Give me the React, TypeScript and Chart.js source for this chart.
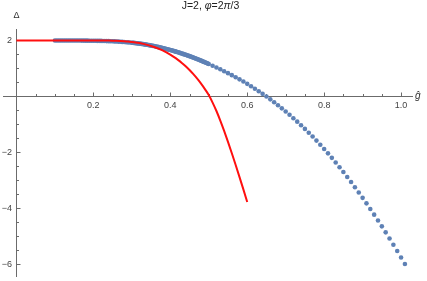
import React, { useEffect, useRef } from 'react';
import { Chart, registerables } from 'chart.js';
Chart.register(...registerables);

// Red curve (solid line)
const redX = [
  0.00, 0.01, 0.02, 0.03, 0.04, 0.05, 0.06, 0.07, 0.08, 0.09,
  0.10, 0.11, 0.12, 0.13, 0.14, 0.15, 0.16, 0.17, 0.18, 0.19,
  0.20, 0.21, 0.22, 0.23, 0.24, 0.25, 0.26, 0.27, 0.28, 0.29,
  0.30, 0.31, 0.32, 0.33, 0.34, 0.35, 0.36, 0.37, 0.38, 0.39,
  0.40, 0.41, 0.42, 0.43, 0.44, 0.45, 0.46, 0.47, 0.48, 0.49,
  0.50, 0.51, 0.52, 0.53, 0.54, 0.55, 0.56, 0.57, 0.58, 0.59,
  0.60,
];
const redY = [
  2.000, 2.000, 2.000, 2.000, 2.000, 2.000, 2.000, 2.000, 2.000, 2.000,
  2.000, 2.000, 2.000, 2.000, 2.000, 2.000, 2.000, 2.000, 2.000, 2.000,
  2.000, 1.999, 1.998, 1.997, 1.995, 1.992, 1.988, 1.982, 1.974, 1.963,
  1.948, 1.930, 1.906, 1.878, 1.844, 1.804, 1.758, 1.704, 1.643, 1.573,
  1.495, 1.406, 1.307, 1.198, 1.076, 0.943, 0.795, 0.633, 0.456, 0.262,
  0.050, -0.220, -0.520, -0.860, -1.230, -1.620, -2.030, -2.450, -2.880, -3.320,
  -3.770,
];

// Blue points (dense sampling up to 0.5, then coarser)
const blueX = [
  0.100, 0.105, 0.110, 0.115, 0.120, 0.125, 0.130, 0.135, 0.140, 0.145,
  0.150, 0.155, 0.160, 0.165, 0.170, 0.175, 0.180, 0.185, 0.190, 0.195,
  0.200, 0.205, 0.210, 0.215, 0.220, 0.225, 0.230, 0.235, 0.240, 0.245,
  0.250, 0.255, 0.260, 0.265, 0.270, 0.275, 0.280, 0.285, 0.290, 0.295,
  0.300, 0.305, 0.310, 0.315, 0.320, 0.325, 0.330, 0.335, 0.340, 0.345,
  0.350, 0.355, 0.360, 0.365, 0.370, 0.375, 0.380, 0.385, 0.390, 0.395,
  0.400, 0.405, 0.410, 0.415, 0.420, 0.425, 0.430, 0.435, 0.440, 0.445,
  0.450, 0.455, 0.460, 0.465, 0.470, 0.475, 0.480, 0.485, 0.490, 0.495,
  0.500,
  0.51, 0.52, 0.53, 0.54, 0.55, 0.56, 0.57, 0.58, 0.59, 0.60,
  0.61, 0.62, 0.63, 0.64, 0.65, 0.66, 0.67, 0.68, 0.69, 0.70,
  0.71, 0.72, 0.73, 0.74, 0.75, 0.76, 0.77, 0.78, 0.79, 0.80,
  0.81, 0.82, 0.83, 0.84, 0.85, 0.86, 0.87, 0.88, 0.89, 0.90,
  0.91, 0.92, 0.93, 0.94, 0.95, 0.96, 0.97, 0.98, 0.99, 1.00,
  1.01,
];
const blueY = [
  2.000, 2.000, 2.000, 2.000, 2.000, 2.000, 1.999, 1.999, 1.999, 1.999,
  1.998, 1.998, 1.997, 1.997, 1.996, 1.995, 1.994, 1.993, 1.992, 1.991,
  1.990, 1.989, 1.987, 1.986, 1.984, 1.982, 1.980, 1.978, 1.976, 1.973,
  1.970, 1.967, 1.963, 1.959, 1.955, 1.950, 1.945, 1.939, 1.933, 1.927,
  1.920, 1.913, 1.905, 1.897, 1.888, 1.878, 1.868, 1.857, 1.845, 1.833,
  1.820, 1.807, 1.793, 1.778, 1.763, 1.747, 1.731, 1.714, 1.697, 1.679,
  1.660, 1.641, 1.621, 1.600, 1.579, 1.557, 1.535, 1.512, 1.489, 1.465,
  1.440, 1.415, 1.389, 1.362, 1.335, 1.307, 1.279, 1.250, 1.221, 1.191,
  1.160,
  1.098, 1.035, 0.970, 0.902, 0.832, 0.761, 0.687, 0.611, 0.532, 0.450,
  0.365, 0.277, 0.186, 0.093, -0.004, -0.104, -0.207, -0.314, -0.424, -0.538,
  -0.655, -0.776, -0.900, -1.028, -1.159, -1.294, -1.433, -1.577, -1.725, -1.877,
  -2.033, -2.193, -2.358, -2.527, -2.700, -2.877, -3.058, -3.242, -3.430, -3.622,
  -3.818, -4.018, -4.222, -4.429, -4.640, -4.855, -5.074, -5.296, -5.522, -5.752,
  -5.985,
];
// Extra blue samples in the steeper part of the dense band
const blueFineX = [
  0.3025, 0.3075, 0.3125, 0.3175, 0.3225, 0.3275, 0.3325, 0.3375, 0.3425, 0.3475,
  0.3525, 0.3575, 0.3625, 0.3675, 0.3725, 0.3775, 0.3825, 0.3875, 0.3925, 0.3975,
  0.4025, 0.4075, 0.4125, 0.4175, 0.4225, 0.4275, 0.4325, 0.4375, 0.4425, 0.4475,
  0.4525, 0.4575, 0.4625, 0.4675, 0.4725, 0.4775, 0.4825, 0.4875, 0.4925, 0.4975,
];
const blueFineY = [
  1.917, 1.909, 1.901, 1.892, 1.883, 1.873, 1.862, 1.851, 1.839, 1.826,
  1.813, 1.800, 1.785, 1.770, 1.755, 1.739, 1.722, 1.705, 1.688, 1.669,
  1.650, 1.631, 1.610, 1.589, 1.568, 1.546, 1.523, 1.500, 1.477, 1.452,
  1.427, 1.402, 1.375, 1.348, 1.321, 1.293, 1.264, 1.235, 1.206, 1.175,
];

// Axis ticks and labels
const xMajorTicks = [0.2, 0.4, 0.6, 0.8, 1.0];
const xTickLabels = ['0.2', '0.4', '0.6', '0.8', '1.0'];
const xMinorTicks = [0.05, 0.1, 0.15, 0.25, 0.3, 0.35, 0.45, 0.5, 0.55, 0.65, 0.7, 0.75, 0.85, 0.9, 0.95];
const yMajorTicks = [2, -2, -4, -6];
const yTickLabels = ['2', '\u22122', '\u22124', '\u22126'];
const yMinorTicks = [1.5, 1, 0.5, -0.5, -1, -1.5, -2.5, -3, -3.5, -4.5, -5, -5.5];

const titleParts = [
  { text: 'J=2, ', italic: false },
  { text: '\u03C6', italic: true },
  { text: '=2', italic: false },
  { text: '\u03C0', italic: true },
  { text: '/3', italic: false },
];
const xAxisLabel = '\u011D';
const yAxisLabel = '\u0394';

const FONT = '"Liberation Sans", Arial, sans-serif';
const AXIS_COLOR = '#6b6b6b';
const LABEL_COLOR = '#444444';

const axesPlugin = {
  id: 'mmaAxes',
  beforeDatasetsDraw(chart: any) {
    const ctx = chart.ctx as CanvasRenderingContext2D;
    const xs = chart.scales.x;
    const ys = chart.scales.y;
    const area = chart.chartArea;
    const x0 = Math.round(xs.getPixelForValue(0)) + 0.5;
    const y0 = Math.round(ys.getPixelForValue(0)) + 0.5;
    ctx.save();
    ctx.strokeStyle = AXIS_COLOR;
    ctx.lineWidth = 1;
    ctx.beginPath();
    ctx.moveTo(area.left - 1, y0);
    ctx.lineTo(area.right, y0);
    ctx.moveTo(x0, area.top);
    ctx.lineTo(x0, area.bottom);
    xMajorTicks.forEach((v) => {
      const p = Math.round(xs.getPixelForValue(v)) + 0.5;
      ctx.moveTo(p, y0);
      ctx.lineTo(p, y0 - 4);
    });
    xMinorTicks.forEach((v) => {
      const p = Math.round(xs.getPixelForValue(v)) + 0.5;
      ctx.moveTo(p, y0);
      ctx.lineTo(p, y0 - 2.5);
    });
    yMajorTicks.forEach((v) => {
      const p = Math.round(ys.getPixelForValue(v)) + 0.5;
      ctx.moveTo(x0, p);
      ctx.lineTo(x0 + 4, p);
    });
    yMinorTicks.forEach((v) => {
      const p = Math.round(ys.getPixelForValue(v)) + 0.5;
      ctx.moveTo(x0, p);
      ctx.lineTo(x0 + 2.5, p);
    });
    ctx.stroke();

    ctx.fillStyle = LABEL_COLOR;
    ctx.font = `9px ${FONT}`;
    ctx.textAlign = 'center';
    ctx.textBaseline = 'middle';
    xMajorTicks.forEach((v, i) => {
      ctx.fillText(xTickLabels[i], xs.getPixelForValue(v), y0 + 9);
    });
    ctx.textAlign = 'right';
    yMajorTicks.forEach((v, i) => {
      ctx.fillText(yTickLabels[i], x0 - 4.5, ys.getPixelForValue(v));
    });

    ctx.fillStyle = '#333333';
    ctx.textAlign = 'center';
    ctx.font = `9px ${FONT}`;
    ctx.fillText(yAxisLabel, x0, area.top - 13);
    ctx.font = `italic 10px ${FONT}`;
    ctx.textAlign = 'left';
    ctx.fillText(xAxisLabel, area.right + 2, y0);

    ctx.textBaseline = 'middle';
    let total = 0;
    const widths = titleParts.map((p) => {
      ctx.font = `${p.italic ? 'italic ' : ''}10.5px ${FONT}`;
      const w = ctx.measureText(p.text).width;
      total += w;
      return w;
    });
    let cx = (area.left + area.right) / 2 + 2 - total / 2;
    ctx.fillStyle = '#222222';
    ctx.textAlign = 'left';
    titleParts.forEach((p, i) => {
      ctx.font = `${p.italic ? 'italic ' : ''}10.5px ${FONT}`;
      ctx.fillText(p.text, cx, 6);
      cx += widths[i];
    });
    ctx.restore();
  },
};

export default function App() {
  const ref = useRef<HTMLCanvasElement | null>(null);
  useEffect(() => {
    if (!ref.current) return;
    const redData = redX.map((x, i) => ({ x, y: redY[i] }));
    const blueData = blueX
      .map((x, i) => ({ x, y: blueY[i] }))
      .concat(blueFineX.map((x, i) => ({ x, y: blueFineY[i] })));
    const chart = new Chart(ref.current, {
      type: 'scatter',
      data: {
        datasets: [
          {
            label: 'red',
            data: redData,
            showLine: true,
            borderColor: '#ff0f0f',
            borderWidth: 2,
            pointRadius: 0,
            fill: false,
            cubicInterpolationMode: 'monotone',
            order: 0,
          } as any,
          {
            label: 'blue',
            data: blueData,
            showLine: false,
            backgroundColor: 'rgb(94,129,181)',
            borderWidth: 0,
            pointRadius: 2.3,
            order: 1,
          } as any,
        ],
      },
      options: {
        animation: false,
        responsive: false,
        layout: { padding: { left: 1, top: 29, right: 14, bottom: 1 } },
        scales: {
          x: { type: 'linear', min: -0.0323, max: 1.031, display: false },
          y: { type: 'linear', min: -6.45, max: 2.41, display: false },
        },
        plugins: {
          legend: { display: false },
          tooltip: { enabled: false },
          title: { display: false },
        },
      },
      plugins: [axesPlugin],
    });
    return () => chart.destroy();
  }, []);
  return (
    <div style={{ position: 'absolute', left: 0, top: 0, width: 427, height: 281, background: '#fff' }}>
      <canvas ref={ref} width={427} height={281} style={{ display: 'block' }} />
    </div>
  );
}
